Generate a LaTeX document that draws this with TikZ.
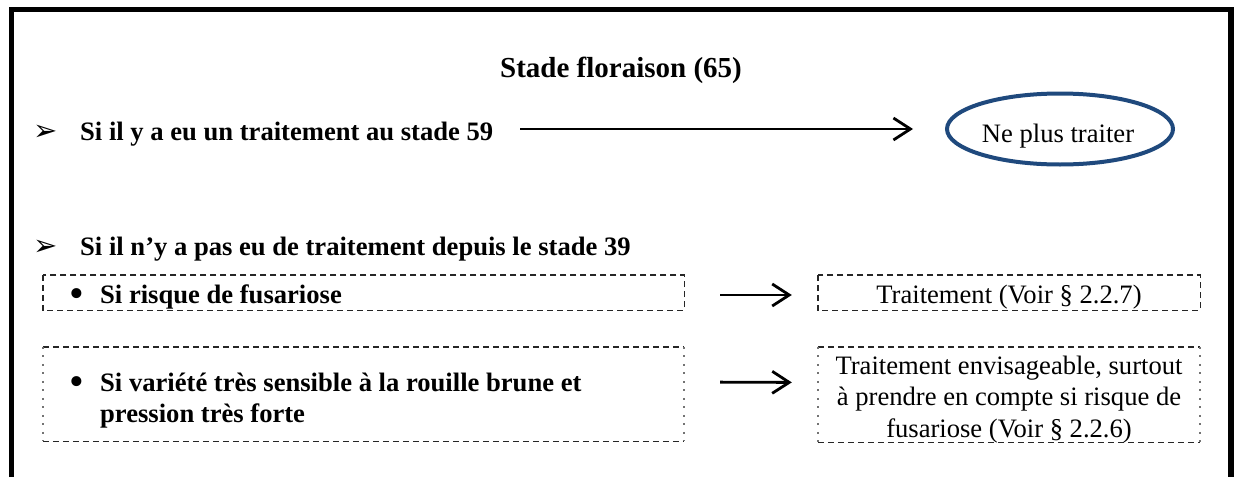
\documentclass[tikz,border=0pt]{standalone}
\usepackage{fontspec}
\setmainfont{Liberation Serif}
\newfontfamily\symfont{DejaVu Sans}
\usetikzlibrary{arrows.meta,shapes.geometric}
\definecolor{ovalblue}{RGB}{31,73,125}
\begin{document}
\begin{tikzpicture}[x=1pt,y=-1pt,
  frame/.style={line width=5.5pt, line join=miter},
  boldtxt/.style={font=\fontsize{26.6}{31.5}\selectfont\bfseries, inner sep=0pt, anchor=base west},
  plaintxt/.style={font=\fontsize{26.6}{31.5}\selectfont, inner sep=0pt, anchor=base},
  symb/.style={font=\fontsize{29}{32}\selectfont\symfont, inner sep=0pt, anchor=base west},
  bul/.style={font=\fontsize{42}{42}\selectfont, inner sep=0pt, anchor=center},
  boxnode/.style={inner sep=0pt, minimum height=#1},
  dashbox/.style={line width=1.4pt, black!85, dash pattern=on 6pt off 4pt},
  dotside/.style={line width=1.6pt, black!55, dash pattern=on 2pt off 6.5pt},
  arr/.style={line width=2.8pt, -{Straight Barb[length=17pt,width=22pt,line width=2.8pt]}}
]
\useasboundingbox (0,0) rectangle (1235,477);
% frame
\draw[frame] (11.7,477) -- (11.7,9.7) -- (1230.8,9.7) -- (1230.8,477);
% title
\node[font=\fontsize{29}{34}\selectfont\bfseries, inner sep=0pt, anchor=base] (title) at (621,77.6) {Stade floraison (65)};
% row 1
\node[symb] (m1) at (33,140) {➢};
\node[boldtxt] (t1) at (80,140) {Si il y a eu un traitement au stade 59};
\node[draw=ovalblue, line width=4pt, ellipse, minimum width=226, minimum height=71, inner sep=0pt] (oval) at (1060,129) {};
\node[plaintxt] (ovaltxt) at (1058,142) {Ne plus traiter};
\draw[arr, shorten <=27pt, shorten >=32pt] (t1.east |- oval.west) -- (oval.west);
% row 2
\node[symb] (m2) at (33,255) {➢};
\node[boldtxt] (t2) at (80,255) {Si il n’y a pas eu de traitement depuis le stade 39};
% boxes
\node[boxnode=35, minimum width=641] (b1) at (363.5,292.5) {};
\node[boxnode=35, minimum width=382] (b2) at (1009,292.5) {};
\node[boxnode=94, minimum width=641] (b3) at (363.5,394) {};
\node[boxnode=95, minimum width=382] (b4) at (1009,394.5) {};
\draw[dashbox] (b1.north west) rectangle (b1.south east);
\draw[dashbox] (b2.north west) rectangle (b2.south east);
\draw[dashbox] (b3.north west) -- (b3.north east);
\draw[dashbox] (b3.south west) -- (b3.south east);
\draw[dotside] (b3.north west) -- (b3.south west);
\draw[dotside] (b3.north east) -- (b3.south east);
\draw[dashbox] (b4.north west) -- (b4.north east);
\draw[dashbox] (b4.south west) -- (b4.south east);
\draw[dotside] (b4.north west) -- (b4.south west);
\draw[dotside] (b4.north east) -- (b4.south east);
% box texts
\node[bul] (bu1) at (77,298) {•};
\node[boldtxt] (t3) at (100,303) {Si risque de fusariose};
\node[plaintxt] (t4) at (1009,303) {Traitement (Voir § 2.2.7)};
\node[bul] (bu2) at (77,386) {•};
\node[boldtxt] (t5a) at (100,391) {Si variété très sensible à la rouille brune et};
\node[boldtxt] (t5b) at (100,422) {pression très forte};
\node[plaintxt] (t6a) at (1009,374) {Traitement envisageable, surtout};
\node[plaintxt] (t6b) at (1009,405.5) {à prendre en compte si risque de};
\node[plaintxt] (t6c) at (1009,437) {fusariose (Voir § 2.2.6)};
% arrows
\draw[arr, shorten <=36pt, shorten >=26pt] ([yshift=-2.5pt]b1.east) -- ([yshift=-2.5pt]b2.west);
\draw[arr, shorten <=36pt, shorten >=26pt] ([yshift=12pt]b3.east) -- ([yshift=12pt]b4.west);
\end{tikzpicture}
\end{document}
